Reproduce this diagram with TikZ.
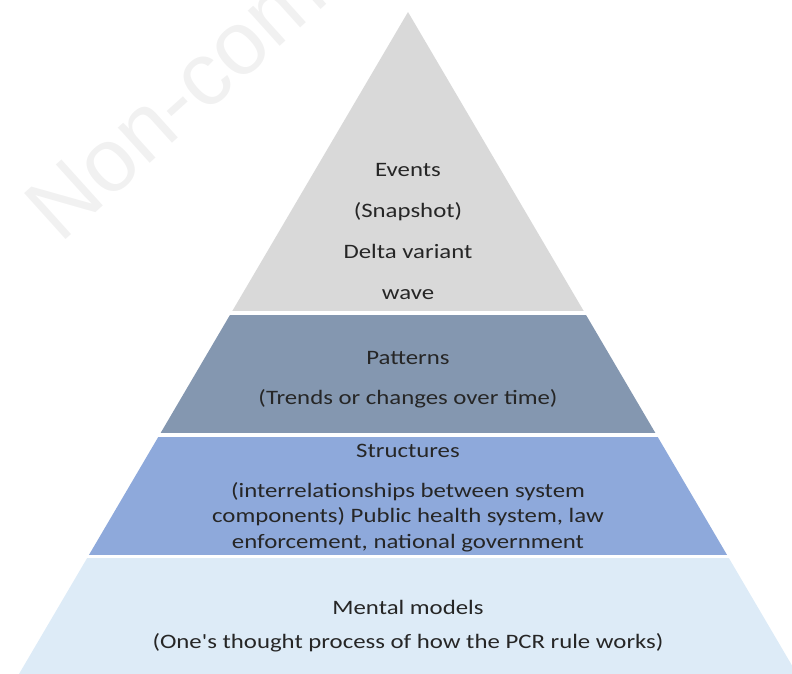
\documentclass[tikz,border=0pt]{standalone}
\usepackage{fontspec}
\setmainfont{Carlito}[Ligatures=TeXOff]
\newfontfamily\markfont{Liberation Sans}
\usetikzlibrary{positioning}
\definecolor{eventsgray}{HTML}{D9D9D9}
\definecolor{patternblue}{HTML}{8497B0}
\definecolor{structblue}{HTML}{8EA9DB}
\definecolor{mentalblue}{HTML}{DDEBF7}
\definecolor{markgray}{HTML}{F1F1F1}
\definecolor{textdark}{HTML}{262626}

\begin{document}
\begin{tikzpicture}[x=1pt, y=1pt, font=\fontsize{20.5}{25.5}\selectfont,
  layertext/.style={align=center, inner sep=0pt, text=textdark, xscale=1.21}]
  \useasboundingbox (0,0) rectangle (792,674);
  \clip (0,0) rectangle (792,674);

  % Watermark behind the pyramid
  \node[markgray, font=\markfont\fontsize{90}{90}\selectfont, rotate=42,
    anchor=base west, inner sep=0pt] (mark) at (60,429) {Non-comm};

  % Pyramid: one triangle cut into four bands
  \coordinate (apex) at (408,662);
  \coordinate (baseL) at (19,0);
  \coordinate (baseR) at (797,0);
  \begin{scope}
    \clip (apex) -- (baseR) -- (baseL) -- cycle;
    \foreach \ylo/\yhi/\col in {363/662/eventsgray, 241/359/patternblue,
        119/237/structblue, 0/116/mentalblue}
      \fill[\col] (0,\ylo) rectangle (792,\yhi);
  \end{scope}

  % Band labels
  \node[layertext] (events) at (408,442)
    {Events\\[15.5pt] (Snapshot)\\[15.5pt] Delta variant\\[15.5pt] wave};
  \node[layertext] (patterns) at (408,294)
    {Patterns\\[14.5pt] (Trends or changes over time)};
  \node[layertext] (structures) at (408,176)
    {Structures\\[14.5pt] (interrelationships between system\\
     components) Public health system, law\\ enforcement, national government};
  \node[layertext] (mental) at (408,48)
    {Mental models\\[8pt] (One's thought process of how the PCR rule works)};
\end{tikzpicture}
\end{document}
